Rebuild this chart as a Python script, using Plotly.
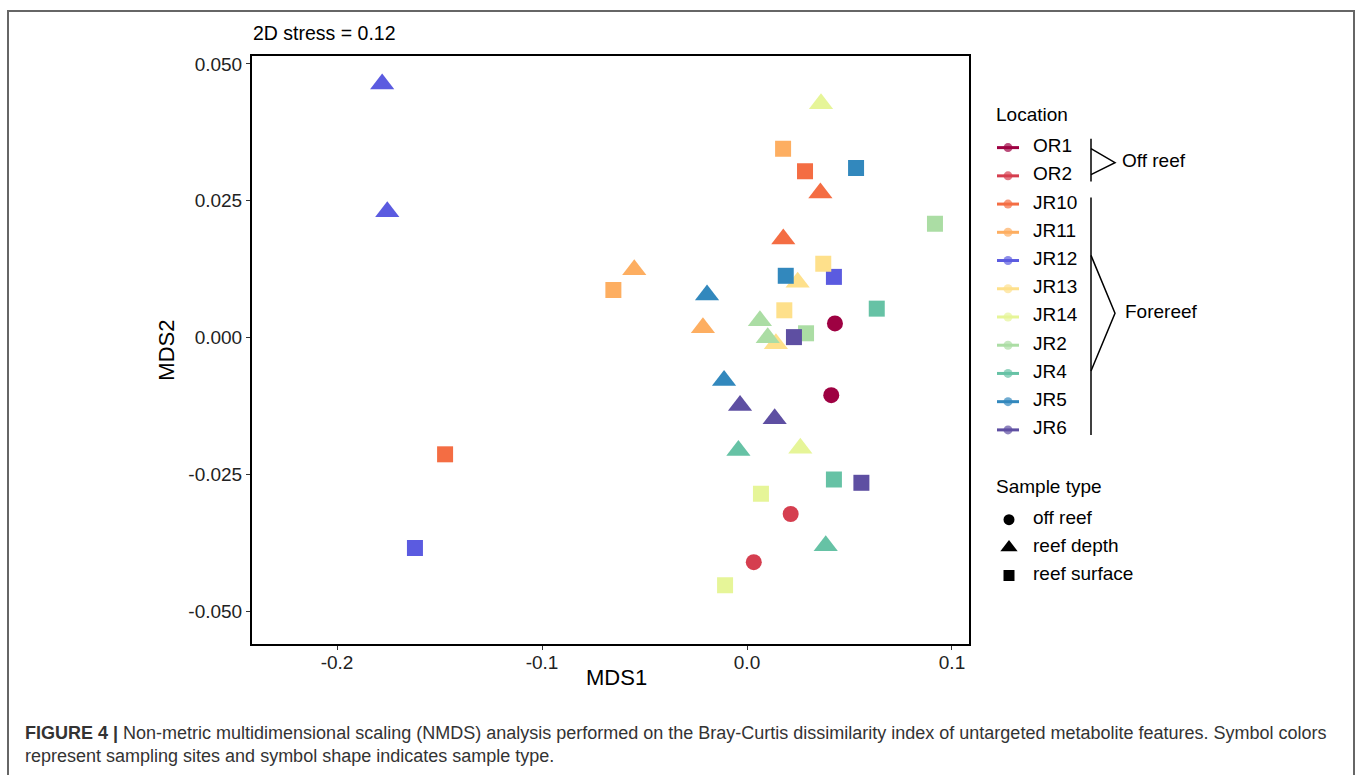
import plotly.graph_objects as go

# ---------------- data ----------------
locations = ["OR1", "OR2", "JR10", "JR11", "JR12", "JR13", "JR14", "JR2", "JR4", "JR5", "JR6"]
loc_colors = ["#9E0142", "#D53E4F", "#F46D43", "#FDAE61", "#5B5BE0", "#FEE08B",
              "#E6F598", "#ABDDA4", "#66C2A5", "#3288BD", "#5E4FA2"]
sample_types = ["off reef", "reef depth", "reef surface"]

site = (["OR1"] * 2 + ["OR2"] * 2 + ["JR10"] * 4 + ["JR11"] * 4 + ["JR12"] * 4 + ["JR13"] * 4 +
        ["JR14"] * 4 + ["JR2"] * 4 + ["JR4"] * 4 + ["JR5"] * 4 + ["JR6"] * 4)
stype = (["off reef"] * 4 +
         ["reef surface", "reef depth", "reef depth", "reef surface"] +      # JR10
         ["reef depth", "reef surface", "reef depth", "reef surface"] +      # JR11
         ["reef depth", "reef depth", "reef surface", "reef surface"] +      # JR12
         ["reef depth", "reef surface", "reef depth", "reef surface"] +      # JR13
         ["reef depth", "reef depth", "reef surface", "reef surface"] +      # JR14
         ["reef depth", "reef depth", "reef surface", "reef surface"] +      # JR2
         ["reef surface", "reef depth", "reef surface", "reef depth"] +      # JR4
         ["reef depth", "reef surface", "reef surface", "reef depth"] +      # JR5
         ["reef surface", "reef depth", "reef depth", "reef surface"])       # JR6
mds1 = [0.0429, 0.0411, 0.0213, 0.0033,
        -0.1473, 0.0177, 0.0358, 0.0283,
        -0.0550, -0.0652, -0.0215, 0.0176,
        -0.1780, -0.1755, -0.1620, 0.0424,
        0.0141, 0.0182, 0.0247, 0.0372,
        0.0361, 0.0260, 0.0068, -0.0107,
        0.0063, 0.0101, 0.0288, 0.0917,
        0.0633, -0.0042, 0.0424, 0.0384,
        -0.0195, 0.0189, 0.0532, -0.0112,
        0.0229, -0.0034, 0.0135, 0.0558]
mds2 = [0.0026, -0.0105, -0.0322, -0.0410,
        -0.0213, 0.0180, 0.0264, 0.0304,
        0.0124, 0.0087, 0.0018, 0.0345,
        0.0463, 0.0230, -0.0384, 0.0111,
        -0.0011, 0.0050, 0.0101, 0.0135,
        0.0427, -0.0202, -0.0285, -0.0452,
        0.0031, 0.0000, 0.0008, 0.0208,
        0.0053, -0.0206, -0.0259, -0.0380,
        0.0078, 0.0113, 0.0310, -0.0078,
        0.0001, -0.0124, -0.0148, -0.0265]

x_ticks = [-0.2, -0.1, 0.0, 0.1]
x_ticklabels = ["-0.2", "-0.1", "0.0", "0.1"]
y_ticks = [0.05, 0.025, 0.0, -0.025, -0.05]
y_ticklabels = ["0.050", "0.025", "0.000", "-0.025", "-0.050"]

# ---------------- styling ----------------
W, H = 1357, 775
FONT = "Liberation Sans, Arial, Helvetica, sans-serif"
sym_map = {"off reef": "circle", "reef depth": "triangle-up", "reef surface": "square"}
size_map = {"off reef": 16, "reef depth": 21, "reef surface": 16}
color_map = dict(zip(locations, loc_colors))

fig = go.Figure()

# main scatter, one trace per location x sample type
for loc in locations:
    for st in sample_types:
        xs = [x for x, s, t in zip(mds1, site, stype) if s == loc and t == st]
        ys = [y for y, s, t in zip(mds2, site, stype) if s == loc and t == st]
        if not xs:
            continue
        fig.add_trace(go.Scatter(
            x=xs, y=ys, mode="markers", showlegend=False,
            marker=dict(symbol=sym_map[st], size=size_map[st], color=color_map[loc],
                        line=dict(width=0)),
            xaxis="x", yaxis="y", hoverinfo="skip"))

# ---------------- manual legend on a pixel-scaled overlay axis ----------------
loc_y0, loc_dy = 146, 28.3
for i, (loc, col) in enumerate(zip(locations, loc_colors)):
    yy = loc_y0 + i * loc_dy
    fig.add_trace(go.Scatter(
        x=[997, 1008, 1019], y=[yy, yy, yy], mode="lines+markers", showlegend=False,
        line=dict(color=col, width=3),
        marker=dict(size=[0, 9, 0], color=col, line=dict(width=0)),
        xaxis="x2", yaxis="y2", hoverinfo="skip"))

st_y = [519, 547, 575]
st_size = [11, 15, 11]
for st, yy, sz in zip(sample_types, st_y, st_size):
    fig.add_trace(go.Scatter(
        x=[1009], y=[yy], mode="markers", showlegend=False,
        marker=dict(symbol=sym_map[st], size=sz, color="black", line=dict(width=0)),
        xaxis="x2", yaxis="y2", hoverinfo="skip"))

annotations = []
DY = -2  # text baseline correction
def txt(x, y, s, size=19, color="black"):
    annotations.append(dict(x=x, y=y + DY, xref="x2", yref="y2", text=s, showarrow=False,
                            xanchor="left", yanchor="middle",
                            font=dict(family=FONT, size=size, color=color)))

txt(994, 115, "Location", size=19)
for i, loc in enumerate(locations):
    txt(1031, loc_y0 + i * loc_dy, loc)
txt(1120, 161, "Off reef")
txt(1123, 312, "Forereef")
txt(994, 488, "Sample type", size=19)
for st, yy in zip(sample_types, st_y):
    txt(1031, yy, st)
txt(251, 33, "2D stress = 0.12", size=19.5)

# x-axis title
annotations.append(dict(x=616, y=677, xref="x2", yref="y2", text="MDS1", showarrow=False,
                        xanchor="center", yanchor="middle",
                        font=dict(family=FONT, size=22, color="black")))

# caption
annotations.append(dict(
    x=23, y=744, xref="x2", yref="y2", xanchor="left", yanchor="middle", showarrow=False,
    align="left",
    text=("<b>FIGURE 4 |</b> Non-metric multidimensional scaling (NMDS) analysis performed on the "
          "Bray-Curtis dissimilarity index of untargeted metabolite features. Symbol colors<br>"
          "represent sampling sites and symbol shape indicates sample type."),
    font=dict(family=FONT, size=18, color="#333333")))

shapes = [
    # outer figure frame
    dict(type="path", xref="x2", yref="y2",
         path="M 8,800 L 8,9 L 1354,9 L 1354,800",
         line=dict(color="#666666", width=2)),
    # off reef bracket
    dict(type="line", xref="x2", yref="y2", x0=1091, x1=1091, y0=137, y1=180,
         line=dict(color="black", width=1.5)),
    dict(type="path", xref="x2", yref="y2", path="M 1091,147 L 1115,161 L 1091,173",
         line=dict(color="black", width=1.5)),
    # forereef bracket
    dict(type="line", xref="x2", yref="y2", x0=1091, x1=1091, y0=196, y1=434,
         line=dict(color="black", width=1.5)),
    dict(type="path", xref="x2", yref="y2", path="M 1091,254 L 1115,312 L 1091,370",
         line=dict(color="black", width=1.5)),
]

px_l, px_r, px_t, px_b = 252, 969, 54, 644
axis_common = dict(showgrid=False, zeroline=False, showline=True, linecolor="black",
                   linewidth=2, mirror=True, ticks="outside", ticklen=4, tickwidth=1,
                   tickcolor="#333333",
                   tickfont=dict(family=FONT, size=19, color="#222222"))

fig.update_layout(
    width=W, height=H, margin=dict(l=0, r=0, t=0, b=0),
    paper_bgcolor="white", plot_bgcolor="rgba(0,0,0,0)",
    xaxis=dict(domain=[px_l / W, px_r / W], range=[-0.2415, 0.1083],
               tickvals=x_ticks, ticktext=x_ticklabels, ticklabelstandoff=-4,
               **axis_common),
    yaxis=dict(domain=[1 - px_b / H, 1 - px_t / H], range=[-0.0560, 0.05146],
               tickvals=y_ticks, ticktext=y_ticklabels,
               title=dict(text="MDS2", font=dict(family=FONT, size=22, color="black"), standoff=8),
               **axis_common),
    xaxis2=dict(domain=[0, 1], range=[0, W], visible=False, anchor="y2", fixedrange=True),
    yaxis2=dict(domain=[0, 1], range=[H, 0], visible=False, anchor="x2", fixedrange=True),
    annotations=annotations, shapes=shapes, showlegend=False,
)

fig.write_html("out.html")
